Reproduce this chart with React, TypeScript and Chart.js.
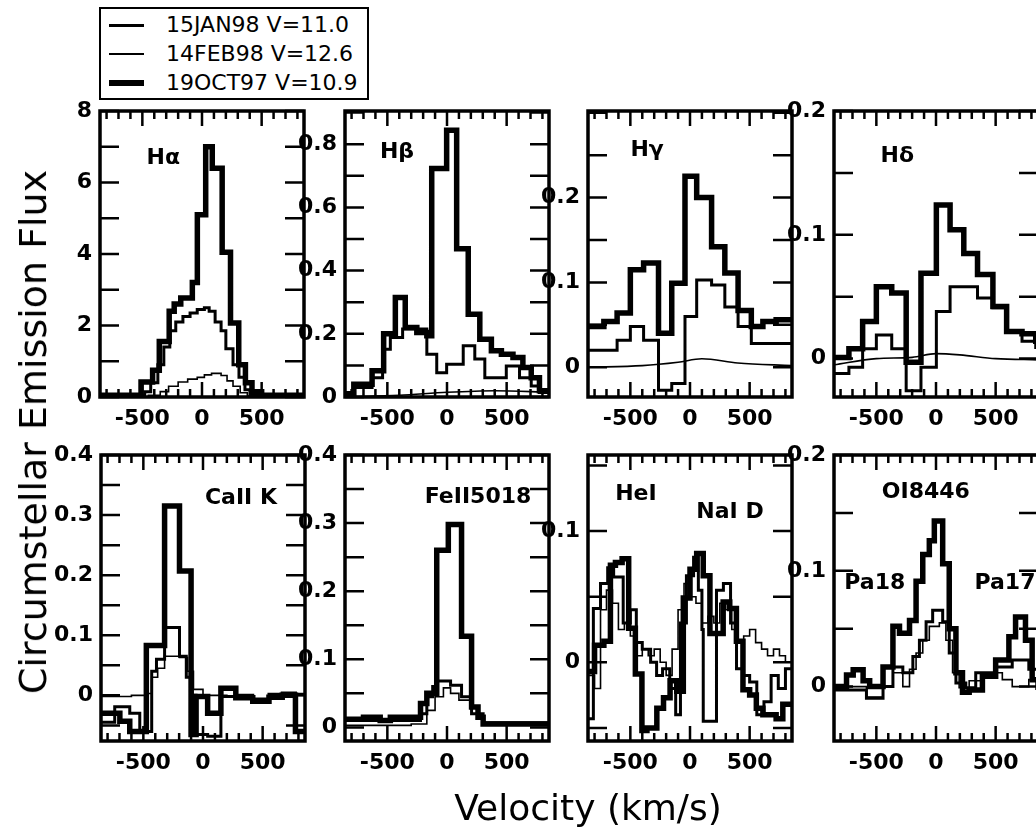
import React, { useEffect, useRef } from "react";
import { Chart, registerables } from "chart.js";
Chart.register(...registerables);

type Pt = [number, number];

// ---------- axis / labels ----------
const X_MIN = -855;
const X_MAX = 855;
const X_LABELS = [-500, 0, 500];
const X_TICKS = [-800, -700, -600, -500, -400, -300, -200, -100, 0, 100, 200, 300, 400, 500, 600, 700, 800];
const SERIES_LABELS = ["15JAN98 V=11.0", "14FEB98 V=12.6", "19OCT97 V=10.9"];
const X_TITLE = "Velocity (km/s)";
const Y_TITLE = "Circumstellar Emission Flux";

// ---------- data: [velocity at left edge of step, flux] ----------
// H-alpha
const haJan98: Pt[] = [[-855,0.03],[-480,0.15],[-430,0.4],[-370,0.9],[-320,1.4],[-270,1.85],[-220,2.1],[-160,2.25],[-100,2.35],[-40,2.45],[20,2.5],[60,2.4],[110,2.1],[160,1.85],[200,1.35],[260,0.9],[310,0.55],[360,0.2],[420,0.05],[855,0.05]];
const haFeb98: Pt[] = [[-855,0.0],[-450,0.05],[-350,0.15],[-280,0.3],[-200,0.42],[-120,0.5],[-40,0.55],[20,0.62],[80,0.66],[160,0.6],[210,0.45],[260,0.3],[320,0.12],[380,0.03],[855,0.0]];
const haOct97: Pt[] = [[-855,0.05],[-511,0.42],[-414,0.75],[-358,1.55],[-275,2.4],[-233,2.6],[-178,2.77],[-81,3.2],[-39,5.1],[31,7.0],[86,6.4],[169,4.05],[239,2.07],[308,0.9],[364,0.4],[419,0.15],[500,0.05],[855,0.05]];
// H-beta
const hbJan98: Pt[] = [[-855,0.014],[-781,0.03],[-628,0.061],[-540,0.151],[-475,0.188],[-372,0.215],[-169,0.135],[-86,0.077],[-3,0.104],[136,0.162],[233,0.12],[317,0.061],[497,0.098],[608,0.061],[706,0.035],[775,0.014],[855,0.014]];
const hbFeb98: Pt[] = [[-855,0.0],[-400,0.005],[0,0.015],[400,0.02],[855,0.015]];
const hbOct97: Pt[] = [[-855,0.01],[-781,0.04],[-628,0.083],[-531,0.2],[-433,0.315],[-350,0.22],[-253,0.204],[-169,0.194],[-128,0.723],[-3,0.844],[81,0.469],[178,0.262],[275,0.183],[372,0.146],[456,0.135],[553,0.125],[636,0.093],[706,0.061],[775,0.02],[855,0.02]];
// H-gamma
const hgJan98: Pt[] = [[-855,0.02],[-611,0.032],[-500,0.048],[-389,0.032],[-264,-0.027],[-153,-0.019],[-42,0.06],[56,0.103],[181,0.097],[292,0.071],[403,0.048],[514,0.028],[855,0.028]];
const hgFeb98: Pt[] = [[-855,0.0],[-400,0.002],[-100,0.006],[100,0.01],[400,0.005],[855,0.002]];
const hgOct97: Pt[] = [[-855,0.048],[-722,0.054],[-611,0.064],[-500,0.115],[-389,0.123],[-264,0.04],[-153,0.099],[-42,0.225],[56,0.2],[181,0.142],[292,0.111],[403,0.067],[514,0.048],[611,0.054],[722,0.056],[855,0.056]];
// H-delta
const hdJan98: Pt[] = [[-855,-0.012],[-730,-0.007],[-615,0.008],[-500,0.019],[-371,0.008],[-250,-0.026],[-126,-0.007],[3,0.038],[118,0.058],[348,0.049],[477,0.041],[592,0.022],[721,0.014],[836,0.009],[855,0.009]];
const hdFeb98: Pt[] = [[-855,-0.005],[-500,0.0],[-200,0.001],[0,0.004],[200,0.003],[500,0.0],[855,-0.001]];
const hdOct97: Pt[] = [[-855,0.001],[-730,0.008],[-615,0.03],[-500,0.058],[-371,0.053],[-250,-0.003],[-126,0.069],[3,0.124],[118,0.104],[233,0.085],[348,0.068],[477,0.042],[592,0.022],[721,0.02],[836,0.014],[855,0.014]];
// Ca II K
const ckJan98: Pt[] = [[-855,-0.045],[-740,-0.019],[-614,-0.03],[-530,-0.06],[-430,0.04],[-390,0.06],[-322,0.113],[-197,0.065],[-140,0.03],[-90,0.0],[-58,-0.065],[39,-0.068],[150,-0.002],[275,0.0],[417,-0.008],[553,0.002],[664,0.004],[775,0.002],[855,0.002]];
const ckFeb98: Pt[] = [[-855,-0.002],[-600,0.0],[-480,0.003],[-430,0.03],[-380,0.045],[-322,0.065],[-197,0.063],[-130,0.04],[-80,0.01],[0,0.0],[200,-0.002],[400,-0.005],[600,0.0],[855,0.003]];
const ckOct97: Pt[] = [[-855,-0.03],[-697,-0.043],[-614,-0.06],[-475,0.083],[-322,0.315],[-197,0.207],[-100,-0.065],[-58,-0.002],[39,-0.03],[150,0.012],[275,-0.004],[417,-0.01],[553,-0.003],[664,0.0],[775,-0.06],[855,-0.06]];
// Fe II 5018
const feJan98: Pt[] = [[-855,0.01],[-222,0.02],[-169,0.045],[-120,0.06],[-86,0.068],[30,0.062],[122,0.045],[206,0.02],[303,0.005],[855,0.003]];
const feFeb98: Pt[] = [[-855,0.003],[-300,0.005],[-169,0.025],[-100,0.045],[-30,0.058],[30,0.05],[100,0.04],[206,0.02],[303,0.008],[855,0.002]];
const feOct97: Pt[] = [[-855,0.012],[-700,0.015],[-560,0.01],[-475,0.015],[-222,0.035],[-169,0.05],[-86,0.26],[11,0.298],[122,0.134],[206,0.03],[260,0.015],[303,0.005],[855,0.005]];
// He I / Na I D
const heJan98: Pt[] = [[-855,-0.043],[-810,0.041],[-750,0.06],[-690,0.072],[-640,0.065],[-560,0.03],[-500,0.04],[-450,0.015],[-400,0.01],[-330,0.0],[-280,-0.01],[-230,-0.005],[-170,-0.02],[-120,-0.04],[-80,0.03],[-30,0.066],[30,0.08],[70,0.055],[100,0.025],[111,-0.045],[222,0.055],[280,0.06],[340,0.03],[390,-0.005],[440,-0.01],[500,-0.015],[560,-0.04],[620,-0.03],[680,-0.01],[740,-0.02],[800,-0.005],[855,-0.005]];
const heFeb98: Pt[] = [[-855,-0.01],[-800,-0.02],[-750,0.04],[-700,0.055],[-650,0.045],[-600,0.025],[-550,0.03],[-500,0.02],[-450,0.005],[-400,0.01],[-350,0.005],[-300,0.01],[-250,0.0],[-200,-0.01],[-150,0.01],[-100,0.04],[-50,0.06],[0,0.05],[50,0.045],[100,0.03],[150,0.035],[200,0.03],[250,0.045],[300,0.04],[350,0.025],[400,0.015],[450,0.02],[500,0.025],[550,0.015],[600,0.01],[650,0.005],[700,0.01],[750,0.005],[800,0.0],[855,0.0]];
const heOct97: Pt[] = [[-855,-0.007],[-800,0.013],[-722,0.016],[-667,0.074],[-625,0.076],[-569,0.079],[-514,0.026],[-458,-0.009],[-403,-0.052],[-361,-0.05],[-278,-0.035],[-222,-0.027],[-167,-0.014],[-111,-0.022],[-56,0.049],[0,0.071],[56,0.083],[111,0.066],[167,0.022],[222,0.022],[278,0.046],[333,0.041],[389,0.016],[444,-0.021],[500,-0.025],[556,-0.035],[611,-0.04],[667,-0.04],[722,-0.043],[778,-0.032],[855,-0.032]];
// O I 8446
const oiJan98: Pt[] = [[-855,-0.003],[-583,-0.01],[-444,0.0],[-361,0.017],[-278,0.012],[-194,0.026],[-139,0.04],[-83,0.056],[-28,0.066],[56,0.056],[111,0.029],[167,0.003],[250,-0.001],[333,0.012],[500,0.017],[639,0.023],[778,0.015],[855,0.015]];
const oiFeb98: Pt[] = [[-855,0.0],[-583,-0.009],[-444,0.0],[-361,0.012],[-278,0.0],[-222,0.015],[-167,0.029],[-111,0.04],[-56,0.052],[28,0.055],[83,0.04],[139,0.012],[194,-0.001],[278,0.005],[389,0.012],[556,0.006],[639,0.0],[778,0.006],[855,0.006]];
const oiOct97: Pt[] = [[-855,0.0],[-750,0.01],[-694,0.0145],[-611,0.005],[-556,0.0],[-444,0.017],[-361,0.052],[-306,0.046],[-222,0.057],[-167,0.091],[-111,0.114],[-56,0.126],[-14,0.143],[56,0.106],[111,0.05],[167,0.012],[222,-0.005],[278,-0.003],[389,0.009],[500,0.023],[611,0.043],[667,0.06],[750,0.04],[806,0.006],[855,-0.003]];

// ---------- styles ----------
const FONT = '"DejaVu Sans", sans-serif';
const LINE_WIDTHS = [3, 1.6, 5.5]; // Jan98, Feb98, Oct97
const PW = 204;
const PH = 286;
const LP = 80, TP = 30, RP = 30, BP = 50;

interface Label { t: string; fx: number; fy: number }
interface PanelDef {
  left: number; top: number;
  yMin: number; yMax: number; yLabels: number[]; yStep: number;
  series: Pt[][];
  smoothThin: boolean;
  texts: Label[];
}

const PANELS: PanelDef[] = [
  { left: 100, top: 111, yMin: 0, yMax: 8, yLabels: [0, 2, 4, 6, 8], yStep: 1, series: [haJan98, haFeb98, haOct97], smoothThin: false, texts: [{ t: "Hα", fx: 0.31, fy: 0.165 }] },
  { left: 345, top: 111, yMin: 0, yMax: 0.905, yLabels: [0, 0.2, 0.4, 0.6, 0.8], yStep: 0.1, series: [hbJan98, hbFeb98, hbOct97], smoothThin: true, texts: [{ t: "Hβ", fx: 0.255, fy: 0.143 }] },
  { left: 588, top: 111, yMin: -0.035, yMax: 0.302, yLabels: [0, 0.1, 0.2], yStep: 0.05, series: [hgJan98, hgFeb98, hgOct97], smoothThin: true, texts: [{ t: "Hγ", fx: 0.29, fy: 0.136 }] },
  { left: 834, top: 111, yMin: -0.031, yMax: 0.2, yLabels: [0, 0.1, 0.2], yStep: 0.05, series: [hdJan98, hdFeb98, hdOct97], smoothThin: true, texts: [{ t: "Hδ", fx: 0.31, fy: 0.16 }] },
  { left: 101, top: 455, yMin: -0.076, yMax: 0.4, yLabels: [0, 0.1, 0.2, 0.3, 0.4], yStep: 0.05, series: [ckJan98, ckFeb98, ckOct97], smoothThin: false, texts: [{ t: "CaII K", fx: 0.686, fy: 0.15 }] },
  { left: 345, top: 455, yMin: -0.02, yMax: 0.4, yLabels: [0, 0.1, 0.2, 0.3, 0.4], yStep: 0.05, series: [feJan98, feFeb98, feOct97], smoothThin: false, texts: [{ t: "FeII5018", fx: 0.652, fy: 0.147 }] },
  { left: 588, top: 455, yMin: -0.06, yMax: 0.158, yLabels: [0, 0.1], yStep: 0.05, series: [heJan98, heFeb98, heOct97], smoothThin: false, texts: [{ t: "HeI", fx: 0.235, fy: 0.136 }, { t: "NaI D", fx: 0.696, fy: 0.2 }] },
  { left: 834, top: 455, yMin: -0.047, yMax: 0.2, yLabels: [0, 0.1, 0.2], yStep: 0.05, series: [oiJan98, oiFeb98, oiOct97], smoothThin: false, texts: [{ t: "OI8446", fx: 0.45, fy: 0.13 }, { t: "Pa18", fx: 0.2, fy: 0.447 }, { t: "Pa17", fx: 0.838, fy: 0.447 }] },
];

function fmt(v: number): string {
  return String(Math.round(v * 1000) / 1000);
}

function Panel({ def }: { def: PanelDef }) {
  const ref = useRef<HTMLCanvasElement>(null);
  const W = LP + PW + RP;
  const H = TP + PH + BP;

  useEffect(() => {
    const yTicks: number[] = [];
    for (let k = Math.ceil(def.yMin / def.yStep - 1e-9); k * def.yStep <= def.yMax + 1e-9; k++) yTicks.push(k * def.yStep);

    const framePlugin = {
      id: "frameTicks",
      afterDatasetsDraw(chart: any) {
        const { ctx, chartArea: a, scales } = chart;
        const x = scales.x, y = scales.y;
        ctx.save();
        ctx.strokeStyle = "#000";
        ctx.lineWidth = 2.5;
        ctx.beginPath();
        for (const v of X_TICKS) {
          const px = x.getPixelForValue(v);
          const len = v % 500 === 0 ? 15 : 8;
          ctx.moveTo(px, a.bottom); ctx.lineTo(px, a.bottom - len);
          ctx.moveTo(px, a.top); ctx.lineTo(px, a.top + len);
        }
        for (const v of yTicks) {
          const py = y.getPixelForValue(v);
          ctx.moveTo(a.left, py); ctx.lineTo(a.left + 19, py);
          ctx.moveTo(a.right, py); ctx.lineTo(a.right - 19, py);
        }
        ctx.stroke();
        ctx.lineWidth = 3.5;
        ctx.strokeRect(a.left, a.top, a.right - a.left, a.bottom - a.top);
        ctx.fillStyle = "#000";
        ctx.font = `bold 22px ${FONT}`;
        ctx.textAlign = "center";
        ctx.textBaseline = "middle";
        for (const t of def.texts) {
          ctx.fillText(t.t, a.left + t.fx * (a.right - a.left), a.top + t.fy * (a.bottom - a.top));
        }
        ctx.restore();
      },
    };

    const datasets = def.series.map((pts, i) => {
      const smooth = i === 1 && def.smoothThin;
      return {
        label: SERIES_LABELS[i],
        data: pts.map(([vx, vy]) => ({ x: vx, y: vy })),
        borderColor: "#000",
        backgroundColor: "#000",
        borderWidth: LINE_WIDTHS[i],
        pointRadius: 0,
        fill: false,
        stepped: smooth ? false : ("before" as const),
        cubicInterpolationMode: smooth ? ("monotone" as const) : ("default" as const),
        tension: 0,
      };
    });

    const tickFont = { family: FONT, size: 22, weight: "bold" as const };
    const chart = new Chart(ref.current!, {
      type: "line",
      data: { datasets },
      options: {
        responsive: false,
        devicePixelRatio: 1,
        animation: false,
        events: [],
        layout: { padding: { left: 0, top: TP, right: RP, bottom: 0 } },
        plugins: { legend: { display: false }, tooltip: { enabled: false } },
        scales: {
          x: {
            type: "linear",
            min: X_MIN,
            max: X_MAX,
            bounds: "data",
            grid: { display: false, drawTicks: false },
            border: { display: false },
            afterBuildTicks: (s: any) => { s.ticks = X_LABELS.map((v) => ({ value: v })); },
            afterFit: (s: any) => { s.height = BP; },
            ticks: { font: tickFont, color: "#000", padding: 9, maxRotation: 0, autoSkip: false, callback: (v: any) => fmt(Number(v)) },
          },
          y: {
            type: "linear",
            min: def.yMin,
            max: def.yMax,
            bounds: "data",
            grid: { display: false, drawTicks: false },
            border: { display: false },
            afterBuildTicks: (s: any) => { s.ticks = def.yLabels.map((v) => ({ value: v })); },
            afterFit: (s: any) => { s.width = LP; },
            ticks: { font: tickFont, color: "#000", padding: 8, autoSkip: false, callback: (v: any) => fmt(Number(v)) },
          },
        },
      } as any,
      plugins: [framePlugin],
    });
    return () => chart.destroy();
  }, []);

  return (
    <canvas
      ref={ref}
      width={W}
      height={H}
      style={{ position: "absolute", left: def.left - LP, top: def.top - TP, width: W, height: H }}
    />
  );
}

export default function App() {
  const legendRows = [25, 54, 83];
  return (
    <div style={{ position: "fixed", left: 0, top: 0, width: 1036, height: 836, overflow: "hidden", background: "#fff" }}>
      {PANELS.map((p, i) => (
        <Panel key={i} def={p} />
      ))}
      <div style={{ position: "absolute", left: 99, top: 7, width: 270, height: 93, border: "2px solid #000", boxSizing: "border-box", background: "#fff" }} />
      {SERIES_LABELS.map((lab, i) => (
        <React.Fragment key={lab}>
          <div style={{ position: "absolute", left: 109, top: legendRows[i] - LINE_WIDTHS[i] / 2, width: 35, height: LINE_WIDTHS[i], background: "#000" }} />
          <div style={{ position: "absolute", left: 166, top: legendRows[i] - 13, height: 26, lineHeight: "26px", fontFamily: FONT, fontSize: 22, color: "#000", whiteSpace: "nowrap" }}>{lab}</div>
        </React.Fragment>
      ))}
      <div style={{ position: "absolute", left: 33, top: 432, transform: "translate(-50%, -50%) rotate(-90deg)", fontFamily: FONT, fontSize: 38, color: "#000", whiteSpace: "nowrap", lineHeight: "44px" }}>{Y_TITLE}</div>
      <div style={{ position: "absolute", left: 588, top: 808, transform: "translate(-50%, -50%)", fontFamily: FONT, fontSize: 36, color: "#000", whiteSpace: "nowrap", lineHeight: "42px" }}>{X_TITLE}</div>
    </div>
  );
}
